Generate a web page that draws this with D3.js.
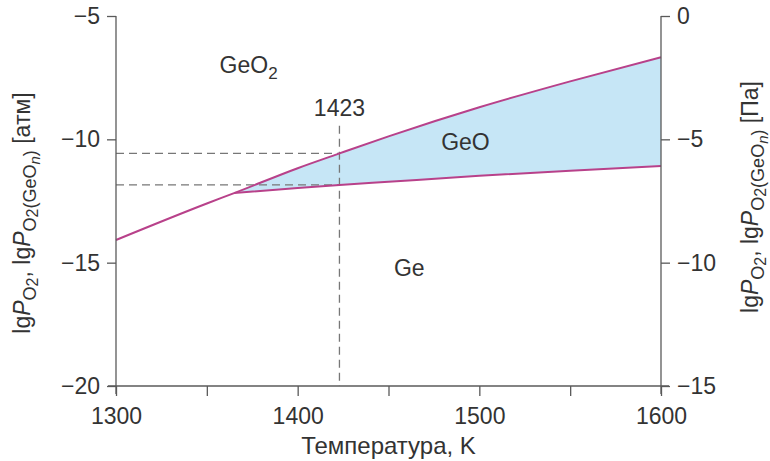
<!DOCTYPE html>
<html>
<head>
<meta charset="utf-8">
<script src="https://cdn.jsdelivr.net/npm/d3@7"></script>
<style>
  body { margin: 0; background: #fff; }
  text { font-family: "Liberation Sans", Arial, sans-serif; fill: #333; }
</style>
</head>
<body>
<div id="chart"></div>
<script>
// upper boundary: GeO2 / Ge (below kink) and GeO2 / GeO (above kink)
const upperT = [1300, 1350, 1365, 1400, 1423, 1450, 1500, 1550, 1600];
const upperP = [-14.08, -12.6, -12.18, -11.17, -10.57, -9.88, -8.70, -7.65, -6.67];
// lower boundary: GeO / Ge
const lowerT = [1365, 1400, 1423, 1450, 1500, 1550, 1600];
const lowerP = [-12.18, -11.97, -11.85, -11.72, -11.48, -11.27, -11.08];

const xTicks = [1300, 1400, 1500, 1600];
const xMinorTicks = [1350, 1450, 1550];
const yTicksAtm = [-5, -10, -15, -20];
const yTicksPa = [0, -5, -10, -15];
const markT = 1423;

const width = 770, height = 461;
const margin = { left: 116, right: 109, top: 16, bottom: 75 };

const svg = d3.select('#chart').append('svg')
    .attr('width', width)
    .attr('height', height);

const x = d3.scaleLinear().domain([1300, 1600]).range([margin.left, width - margin.right]);
const y = d3.scaleLinear().domain([-20, -5]).range([height - margin.bottom, margin.top]);
const yPa = d3.scaleLinear().domain([-15, 0]).range([height - margin.bottom, margin.top]);

const lineColor = '#b8418a';
const axisColor = '#5a5a5a';
const dashColor = '#777';
const fontSize = '23px';

const upper = upperT.map((t, i) => ({ t, p: upperP[i] }));
const lower = lowerT.map((t, i) => ({ t, p: lowerP[i] }));
const band = lower.map(d => ({ t: d.t, p0: d.p, p1: upperP[upperT.indexOf(d.t)] }));

// GeO field
const area = d3.area()
    .x(d => x(d.t))
    .y0(d => y(d.p0))
    .y1(d => y(d.p1))
    .curve(d3.curveMonotoneX);

svg.append('path')
    .datum(band)
    .attr('d', area)
    .attr('fill', '#c6e6f6');

// dashed guides at 1423 K
const pUp = upperP[upperT.indexOf(markT)];
const pLo = lowerP[lowerT.indexOf(markT)];
const guides = svg.append('g')
    .attr('stroke', dashColor)
    .attr('stroke-width', 1.3)
    .attr('stroke-dasharray', '8,5')
    .attr('fill', 'none');

guides.append('line')
    .attr('x1', x(markT)).attr('x2', x(markT))
    .attr('y1', y(-9.45)).attr('y2', y(-20));
[pUp, pLo].forEach(p => {
    guides.append('line')
        .attr('x1', x(1300)).attr('x2', x(markT))
        .attr('y1', y(p)).attr('y2', y(p));
});

// phase boundaries
const line = d3.line()
    .x(d => x(d.t))
    .y(d => y(d.p))
    .curve(d3.curveMonotoneX);

[upper, lower].forEach(data => {
    svg.append('path')
        .datum(data)
        .attr('d', line)
        .attr('fill', 'none')
        .attr('stroke', lineColor)
        .attr('stroke-width', 2);
});

// axes
const minus = d => d3.format('')(d).replace('-', '−');

const gx = svg.append('g')
    .attr('transform', `translate(0,${y(-20)})`)
    .call(d3.axisBottom(x).tickValues(xTicks.concat(xMinorTicks)).tickSize(10)
        .tickFormat(d => xTicks.includes(d) ? d : ''));

const gl = svg.append('g')
    .attr('transform', `translate(${x(1300)},0)`)
    .call(d3.axisLeft(y).tickValues(yTicksAtm).tickSize(9).tickFormat(minus));

const gr = svg.append('g')
    .attr('transform', `translate(${x(1600)},0)`)
    .call(d3.axisRight(yPa).tickValues(yTicksPa).tickSize(9).tickFormat(minus));

[gx, gl, gr].forEach(g => {
    g.select('.domain').remove();
    g.selectAll('.tick line').attr('stroke', axisColor).attr('stroke-width', 1.3);
    g.selectAll('.tick text')
        .style('font-size', fontSize)
        .style('font-family', '"Liberation Sans", Arial, sans-serif')
        .attr('fill', '#333');
});
gx.selectAll('.tick text').attr('y', 38).attr('dy', 0);
gl.selectAll('.tick text').attr('x', -16);
gr.selectAll('.tick text').attr('x', 16);

// axis lines, slightly extended past the corners
const frame = svg.append('g').attr('stroke', axisColor).attr('stroke-width', 1.3);
frame.append('line')
    .attr('x1', x(1300) - 8).attr('x2', x(1600) + 8)
    .attr('y1', y(-20)).attr('y2', y(-20));
frame.append('line')
    .attr('x1', x(1300)).attr('x2', x(1300))
    .attr('y1', y(-5)).attr('y2', y(-20) + 8);
frame.append('line')
    .attr('x1', x(1600)).attr('x2', x(1600))
    .attr('y1', yPa(0)).attr('y2', y(-20) + 8);

// field labels
const labels = svg.append('g').style('font-size', fontSize);

const geo2 = labels.append('text')
    .attr('x', x(1357)).attr('y', y(-7.3));
geo2.append('tspan').text('GeO');
geo2.append('tspan').attr('dy', 6).style('font-size', '17px').text('2');

labels.append('text')
    .attr('x', x(1479)).attr('y', y(-10.45))
    .text('GeO');

labels.append('text')
    .attr('x', x(1453)).attr('y', y(-15.55))
    .text('Ge');

labels.append('text')
    .attr('x', x(markT)).attr('y', y(-9.05))
    .attr('text-anchor', 'middle')
    .text(markT);

// axis titles
svg.append('text')
    .attr('x', (x(1300) + x(1600)) / 2)
    .attr('y', 454)
    .attr('text-anchor', 'middle')
    .style('font-size', '24px')
    .text('Температура, K');

function yTitle(cx, cy, unit) {
    const t = svg.append('text')
        .attr('transform', `translate(${cx},${cy}) rotate(-90)`)
        .attr('text-anchor', 'middle')
        .style('font-size', fontSize);
    t.append('tspan').text('lg');
    t.append('tspan').style('font-style', 'italic').text('P');
    t.append('tspan').attr('dy', 6).style('font-size', '18px').text('O');
    t.append('tspan').attr('dy', 2).style('font-size', '16px').text('2');
    t.append('tspan').attr('dy', -8).text(', lg');
    t.append('tspan').style('font-style', 'italic').text('P');
    t.append('tspan').attr('dy', 6).style('font-size', '18px').text('O');
    t.append('tspan').attr('dy', 2).style('font-size', '16px').text('2');
    t.append('tspan').attr('dy', -2).style('font-size', '18px').text('(GeO');
    t.append('tspan').attr('dy', 4).style('font-size', '15px').style('font-style', 'italic').text('n');
    t.append('tspan').attr('dy', -4).style('font-size', '18px').text(')');
    t.append('tspan').attr('dy', -6).text(' [' + unit + ']');
}
yTitle(30, 213, 'атм');
yTitle(758, 197, 'Па');
</script>
</body>
</html>
